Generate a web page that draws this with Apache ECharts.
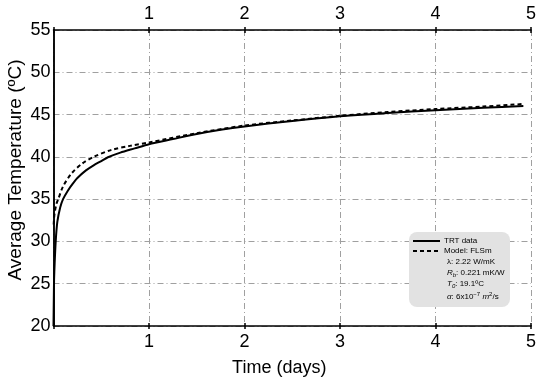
<!DOCTYPE html>
<html>
<head>
<meta charset="utf-8">
<script src="https://cdn.jsdelivr.net/npm/echarts@6/dist/echarts.min.js"></script>
<style>html,body{margin:0;padding:0;background:#fff}#c{width:550px;height:382px}</style>
</head>
<body>
<div id="c"></div>
<script>
// TRT measured data (time in days, temperature in °C)
var trtTime = [0, 0.003, 0.006, 0.012, 0.023, 0.04, 0.07, 0.1, 0.15, 0.2, 0.25, 0.34, 0.42, 0.5, 0.57, 0.7, 0.85, 1.0, 1.25, 1.5, 1.75, 2.0, 2.5, 3.0, 3.5, 4.0, 4.5, 4.92];
var trtTemp = [20, 23, 25.5, 27.4, 30.0, 32.3, 34.0, 35.0, 36.0, 36.8, 37.5, 38.4, 39.0, 39.5, 39.95, 40.5, 41.0, 41.5, 42.1, 42.7, 43.2, 43.6, 44.25, 44.8, 45.2, 45.5, 45.8, 46.0];
// Model FLSm
var modelTime = [0.002, 0.01, 0.03, 0.05, 0.1, 0.19, 0.3, 0.42, 0.6, 0.8, 1.0, 1.5, 2.0, 2.5, 3.0, 3.5, 4.0, 4.5, 4.92];
var modelTemp = [32.0, 33.2, 34.4, 35.0, 36.5, 38.05, 39.2, 40.0, 40.8, 41.3, 41.7, 42.8, 43.7, 44.3, 44.85, 45.3, 45.65, 45.95, 46.25];

var xMin = 0, xMax = 5, xStep = 1;
var yMin = 20, yMax = 55, yStep = 5;

function pairs(a, b) { return a.map(function (t, i) { return [t, b[i]]; }); }

var font = 'Liberation Sans, Arial, sans-serif';
var gridDash = [6, 3, 1, 3];
var hideZero = function (v) { return v === 0 ? '' : String(v); };

function tickAxis(pos) {
  return {
    type: 'value', min: xMin, max: xMax, interval: xStep, position: pos,
    axisLine: { show: false },
    axisTick: { show: true, inside: false, length: 3, lineStyle: { color: '#000', width: 1.5 } },
    axisLabel: { show: false }, splitLine: { show: false }
  };
}

var chart = echarts.init(document.getElementById('c'), null, { renderer: 'canvas' });
chart.setOption({
  animation: false,
  backgroundColor: '#fff',
  grid: { left: 53.5, right: 19, top: 30, bottom: 56, containLabel: false, outerBoundsMode: 'none' },
  xAxis: [{
    type: 'value', min: xMin, max: xMax, interval: xStep, position: 'bottom',
    name: 'Time (days)', nameLocation: 'middle', nameGap: 33, nameMoveOverlap: false,
    nameTextStyle: { fontFamily: font, fontSize: 18, color: '#000', padding: [0, 26, 0, 0] },
    axisLine: { show: true, lineStyle: { color: '#000', width: 1.5 } },
    axisTick: { show: true, inside: true, length: 3, lineStyle: { color: '#000', width: 1.5 } },
    axisLabel: { fontFamily: font, fontSize: 18, color: '#000', margin: 7, formatter: hideZero },
    splitLine: { show: true, lineStyle: { color: '#a0a0a0', width: 1, type: gridDash } }
  }, {
    type: 'value', min: xMin, max: xMax, interval: xStep, position: 'top',
    axisLine: { show: true, lineStyle: { color: '#000', width: 1.5 } },
    axisTick: { show: true, inside: true, length: 3, lineStyle: { color: '#000', width: 1.5 } },
    axisLabel: { fontFamily: font, fontSize: 18, color: '#000', margin: 7, formatter: hideZero },
    splitLine: { show: false }
  }, tickAxis('bottom'), tickAxis('top')],
  yAxis: [{
    type: 'value', min: yMin, max: yMax, interval: yStep, position: 'left',
    name: 'Average Temperature (ºC)', nameLocation: 'middle', nameGap: 28, nameMoveOverlap: false,
    nameTextStyle: { fontFamily: font, fontSize: 19, color: '#000', padding: [0, 0, 0, 16] },
    axisLine: { show: true, lineStyle: { color: '#000', width: 1.5 } },
    axisTick: { show: false },
    axisLabel: { fontFamily: font, fontSize: 18, color: '#000', margin: 3 },
    splitLine: { show: true, lineStyle: { color: '#a0a0a0', width: 1, type: gridDash } }
  }, {
    type: 'value', min: yMin, max: yMax, interval: yStep, position: 'right',
    axisLine: { show: true, lineStyle: { color: '#000', width: 1.5 } },
    axisTick: { show: false }, axisLabel: { show: false }, splitLine: { show: false }
  }],
  series: [{
    name: 'TRT data', type: 'line', smooth: 0.25, showSymbol: false,
    data: pairs(trtTime, trtTemp),
    lineStyle: { color: '#000', width: 2 }, z: 3
  }, {
    name: 'Model: FLSm', type: 'line', smooth: 0.3, showSymbol: false,
    data: pairs(modelTime, modelTemp),
    lineStyle: { color: '#000', width: 2, type: [4, 3] }, z: 4
  }],
  graphic: [{
    type: 'group', left: 409, top: 232, z: 100,
    children: [
      { type: 'rect', z: 100, shape: { x: 0, y: 0, width: 101, height: 75, r: 8 }, style: { fill: '#e2e2e2' } },
      { type: 'line', z: 101, shape: { x1: 4, y1: 9, x2: 31, y2: 9 }, style: { stroke: '#000', lineWidth: 2 } },
      { type: 'line', z: 101, shape: { x1: 4, y1: 19, x2: 31, y2: 19 }, style: { stroke: '#000', lineWidth: 2, lineDash: [4, 3] } },
      { type: 'text', z: 101, x: 35, y: 9, style: { text: 'TRT data', font: '8px ' + font, fill: '#000', verticalAlign: 'middle' } },
      { type: 'text', z: 101, x: 35, y: 19, style: { text: 'Model: FLSm', font: '8px ' + font, fill: '#000', verticalAlign: 'middle' } },
      { type: 'text', z: 101, x: 38, y: 30, style: { text: 'λ: 2.22 W/mK', font: '8px ' + font, fill: '#000', verticalAlign: 'middle' } },
      { type: 'text', z: 101, x: 38, y: 41, style: {
          text: '{i|R}{sub|b}{n|: 0.221 mK/W}', verticalAlign: 'middle',
          rich: {
            i: { fontFamily: font, fontSize: 8, fontStyle: 'italic', fill: '#000' },
            sub: { fontFamily: font, fontSize: 6, fontStyle: 'italic', fill: '#000', padding: [4, 0, 0, 0] },
            n: { fontFamily: font, fontSize: 8, fill: '#000' }
          } } },
      { type: 'text', z: 101, x: 38, y: 52, style: {
          text: '{i|T}{sub|0}{n|: 19.1ºC}', verticalAlign: 'middle',
          rich: {
            i: { fontFamily: font, fontSize: 8, fontStyle: 'italic', fill: '#000' },
            sub: { fontFamily: font, fontSize: 6, fontStyle: 'italic', fill: '#000', padding: [4, 0, 0, 0] },
            n: { fontFamily: font, fontSize: 8, fill: '#000' }
          } } },
      { type: 'text', z: 101, x: 38, y: 65, style: {
          text: '{i|α}{n|: 6x10}{sup|−7}{n| }{i|m}{sup|2}{n|/s}', verticalAlign: 'middle',
          rich: {
            i: { fontFamily: font, fontSize: 8, fontStyle: 'italic', fill: '#000' },
            sup: { fontFamily: font, fontSize: 6, fill: '#000', padding: [0, 0, 5, 0] },
            n: { fontFamily: font, fontSize: 8, fill: '#000' }
          } } }
    ]
  }]
});
</script>
</body>
</html>
